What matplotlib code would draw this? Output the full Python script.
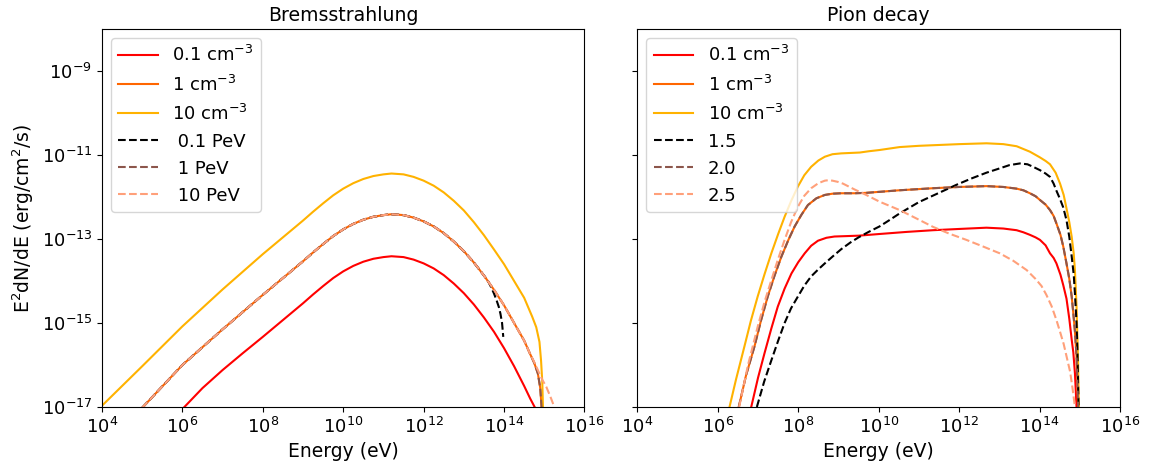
import numpy as np
import matplotlib
matplotlib.use("Agg")
import matplotlib.pyplot as plt

plt.rcParams["font.size"] = 13

# ---------------- Bremsstrahlung (log10 E [eV], log10 E^2dN/dE [erg/cm^2/s]) ----------------
brem_n10_logE = [4.0, 5.0, 6.0, 7.0, 8.0, 9.0, 9.25, 9.5, 9.75, 10.0, 10.25, 10.5, 10.75,
                 11.0, 11.2, 11.5, 11.75, 12.0, 12.25, 12.5, 12.75, 13.0, 13.25, 13.5,
                 13.75, 14.0, 14.25, 14.5, 14.7, 14.8, 14.88, 14.92, 14.95, 14.97]
brem_n10_logF = [-16.97, -16.03, -15.08, -14.20, -13.36, -12.56, -12.35, -12.15, -11.96,
                 -11.80, -11.67, -11.57, -11.50, -11.46, -11.44, -11.46, -11.52, -11.61,
                 -11.73, -11.89, -12.09, -12.32, -12.60, -12.91, -13.25, -13.60, -14.00,
                 -14.40, -14.85, -15.10, -15.45, -15.90, -16.40, -17.10]

brem_n1_logE = [5.0, 6.0, 7.0, 8.0, 9.0, 9.25, 9.5, 9.75, 10.0, 10.25, 10.5, 10.75, 11.0,
                11.2, 11.5, 11.75, 12.0, 12.25, 12.5, 12.75, 13.0, 13.25, 13.5, 13.75,
                14.0, 14.25, 14.5, 14.63, 14.75, 14.84, 14.9, 14.94]
brem_n1_logF = [-17.02, -16.00, -15.15, -14.33, -13.53, -13.32, -13.12, -12.93, -12.77,
                -12.64, -12.54, -12.47, -12.43, -12.41, -12.43, -12.49, -12.58, -12.70,
                -12.86, -13.06, -13.29, -13.56, -13.87, -14.21, -14.58, -15.00, -15.42,
                -15.70, -15.95, -16.20, -16.55, -17.10]

brem_n01_logE = [6.05, 6.5, 7.0, 7.5, 8.0, 9.0, 9.25, 9.5, 9.75, 10.0, 10.25, 10.5, 10.75,
                 11.0, 11.2, 11.5, 11.75, 12.0, 12.25, 12.5, 12.75, 13.0, 13.25, 13.5,
                 13.75, 14.0, 14.25, 14.5, 14.65, 14.76]
brem_n01_logF = [-17.00, -16.55, -16.12, -15.72, -15.33, -14.53, -14.32, -14.12, -13.93,
                 -13.77, -13.64, -13.54, -13.47, -13.43, -13.41, -13.43, -13.49, -13.58,
                 -13.70, -13.86, -14.06, -14.29, -14.56, -14.87, -15.21, -15.60, -16.03,
                 -16.50, -16.80, -17.00]

brem_01PeV_logE = [5.0, 6.0, 7.0, 8.0, 9.0, 9.25, 9.5, 9.75, 10.0, 10.25, 10.5, 10.75,
                   11.0, 11.2, 11.5, 11.75, 12.0, 12.25, 12.5, 12.75, 13.0, 13.25, 13.5,
                   13.6, 13.68, 13.75, 13.81, 13.87, 13.91, 13.95, 13.98]
brem_01PeV_logF = [-17.02, -16.00, -15.15, -14.33, -13.53, -13.32, -13.12, -12.93, -12.77,
                   -12.64, -12.54, -12.47, -12.43, -12.41, -12.43, -12.49, -12.58, -12.70,
                   -12.86, -13.06, -13.29, -13.56, -13.87, -14.00, -14.15, -14.30, -14.45,
                   -14.62, -14.78, -15.00, -15.33]

brem_1PeV_logE = brem_n1_logE
brem_1PeV_logF = brem_n1_logF

brem_10PeV_logE = [5.0, 6.0, 7.0, 8.0, 9.0, 9.25, 9.5, 9.75, 10.0, 10.25, 10.5, 10.75,
                   11.0, 11.2, 11.5, 11.75, 12.0, 12.25, 12.5, 12.75, 13.0, 13.25, 13.5,
                   13.75, 14.0, 14.25, 14.5, 14.63, 14.75, 14.84, 14.95, 15.05, 15.15,
                   15.25]
brem_10PeV_logF = [-17.02, -16.00, -15.15, -14.33, -13.53, -13.32, -13.12, -12.93, -12.77,
                   -12.64, -12.54, -12.47, -12.43, -12.41, -12.43, -12.49, -12.58, -12.70,
                   -12.86, -13.06, -13.29, -13.56, -13.87, -14.21, -14.58, -15.00, -15.42,
                   -15.70, -15.93, -16.12, -16.35, -16.52, -16.75, -17.00]

# ---------------- Pion decay ----------------
pion_n10_logE = [6.29, 6.45, 6.66, 6.82, 6.99, 7.16, 7.33, 7.5, 7.66, 7.82, 7.99, 8.15,
                 8.32, 8.5, 8.66, 8.85, 9.07, 9.3, 9.53, 9.75, 10.02, 10.52, 11.0, 11.5,
                 12.0, 12.68, 13.1, 13.43, 13.76, 14.0, 14.15, 14.26, 14.4, 14.51, 14.6,
                 14.67, 14.74, 14.8, 14.85, 14.88, 14.92, 14.96, 14.98]
pion_n10_logF = [-17.00, -16.35, -15.56, -14.95, -14.37, -13.84, -13.34, -12.88, -12.47,
                 -12.10, -11.75, -11.48, -11.28, -11.13, -11.04, -10.98, -10.96, -10.95,
                 -10.94, -10.91, -10.88, -10.81, -10.78, -10.76, -10.74, -10.72, -10.74,
                 -10.79, -10.92, -11.05, -11.14, -11.22, -11.42, -11.68, -11.95, -12.27,
                 -12.60, -12.95, -13.35, -13.75, -14.60, -16.00, -17.20]

pion_n1_logE = [6.52, 6.7, 6.91, 7.07, 7.24, 7.41, 7.58, 7.75, 7.91, 8.08, 8.24, 8.45,
                8.66, 8.85, 9.07, 9.4, 9.69, 10.1, 10.5, 11.35, 12.0, 12.68, 13.1, 13.43,
                13.6, 13.76, 13.9, 14.01, 14.15, 14.26, 14.35, 14.42, 14.52, 14.59, 14.67,
                14.74, 14.8, 14.84, 14.88, 14.92, 14.96]
pion_n1_logF = [-17.00, -16.25, -15.56, -14.95, -14.37, -13.87, -13.42, -13.03, -12.70,
                -12.42, -12.19, -12.03, -11.95, -11.92, -11.91, -11.91, -11.90, -11.87,
                -11.84, -11.79, -11.76, -11.74, -11.76, -11.80, -11.84, -11.91, -11.98,
                -12.07, -12.18, -12.31, -12.45, -12.63, -12.90, -13.18, -13.58, -13.95,
                -14.37, -14.77, -15.20, -15.80, -17.00]

pion_n01_logE = [6.83, 7.0, 7.16, 7.33, 7.49, 7.66, 7.83, 8.0, 8.16, 8.32, 8.49, 8.7, 8.9,
                 9.2, 9.5, 10.02, 10.7, 11.35, 12.0, 12.68, 13.1, 13.43, 13.6, 13.76, 13.9,
                 14.01, 14.15, 14.26, 14.35, 14.42, 14.52, 14.59, 14.67, 14.74, 14.8,
                 14.84, 14.88, 14.92]
pion_n01_logF = [-17.00, -16.30, -15.72, -15.13, -14.61, -14.18, -13.82, -13.55, -13.34,
                 -13.16, -13.04, -12.97, -12.94, -12.93, -12.92, -12.88, -12.83, -12.79,
                 -12.76, -12.73, -12.75, -12.79, -12.84, -12.90, -12.96, -13.02, -13.15,
                 -13.34, -13.45, -13.58, -13.85, -14.10, -14.42, -14.90, -15.40, -15.70,
                 -16.20, -17.00]

pion_a15_logE = [6.97, 7.15, 7.33, 7.5, 7.66, 7.82, 7.99, 8.15, 8.32, 8.5, 8.66, 8.85,
                 9.07, 9.3, 9.5, 9.75, 10.02, 10.25, 10.52, 11.0, 11.5, 11.93, 12.3, 12.68,
                 13.0, 13.25, 13.51, 13.7, 13.84, 14.01, 14.15, 14.26, 14.35, 14.42, 14.51,
                 14.59, 14.67, 14.74, 14.8, 14.85, 14.88, 14.92, 14.94, 14.97]
pion_a15_logF = [-17.00, -16.40, -15.89, -15.42, -15.00, -14.65, -14.37, -14.11, -13.89,
                 -13.72, -13.58, -13.42, -13.24, -13.08, -12.96, -12.83, -12.70, -12.56,
                 -12.39, -12.12, -11.90, -11.71, -11.56, -11.42, -11.32, -11.24, -11.20,
                 -11.22, -11.28, -11.36, -11.44, -11.52, -11.68, -11.85, -12.05, -12.25,
                 -12.55, -12.95, -13.42, -13.85, -14.30, -15.00, -15.60, -17.00]

pion_a20_logE = pion_n1_logE
pion_a20_logF = pion_n1_logF

pion_a25_logE = [6.53, 6.75, 6.99, 7.16, 7.33, 7.5, 7.66, 7.82, 7.99, 8.15, 8.32, 8.5,
                 8.66, 8.74, 8.85, 8.99, 9.11, 9.4, 9.69, 10.02, 10.52, 11.0, 11.35, 11.75,
                 12.18, 12.6, 13.01, 13.35, 13.68, 13.9, 14.05, 14.17, 14.3, 14.42, 14.51,
                 14.6, 14.68, 14.76, 14.82, 14.88]
pion_a25_logF = [-17.00, -16.00, -15.09, -14.50, -13.98, -13.47, -13.02, -12.60, -12.23,
                 -11.97, -11.79, -11.67, -11.61, -11.60, -11.61, -11.64, -11.68, -11.82,
                 -11.95, -12.11, -12.31, -12.54, -12.71, -12.87, -13.02, -13.18, -13.34,
                 -13.52, -13.74, -13.95, -14.12, -14.33, -14.60, -14.93, -15.21, -15.50,
                 -15.83, -16.16, -16.55, -17.00]

density_labels = ["0.1 cm$^{-3}$", "1 cm$^{-3}$", "10 cm$^{-3}$"]
emax_labels = [" 0.1 PeV", " 1 PeV", " 10 PeV"]
index_labels = ["1.5", "2.0", "2.5"]

solid_colors = ["#ff0000", "#ff6600", "#ffb200"]
dashed_colors = ["black", "#8c564b", "#ffa07a"]


def pw(a):
    return np.power(10.0, np.asarray(a, dtype=float))


fig, (ax1, ax2) = plt.subplots(1, 2, figsize=(11.52, 4.69), dpi=100, sharey=True)
fig.subplots_adjust(left=0.0885, right=0.9722, bottom=0.1322, top=0.938, wspace=0.1097)

# Bremsstrahlung panel
brem_solid = [(brem_n01_logE, brem_n01_logF), (brem_n1_logE, brem_n1_logF),
              (brem_n10_logE, brem_n10_logF)]
brem_dashed = [(brem_01PeV_logE, brem_01PeV_logF), (brem_1PeV_logE, brem_1PeV_logF),
               (brem_10PeV_logE, brem_10PeV_logF)]
for (e, f), c, lab in zip(brem_solid, solid_colors, density_labels):
    ax1.plot(pw(e), pw(f), color=c, lw=1.5, label=lab)
for (e, f), c, lab in zip(brem_dashed, dashed_colors, emax_labels):
    ax1.plot(pw(e), pw(f), color=c, lw=1.5, ls="--", label=lab)
ax1.set_title("Bremsstrahlung", fontsize=13.6)

# Pion decay panel
pion_solid = [(pion_n01_logE, pion_n01_logF), (pion_n1_logE, pion_n1_logF),
              (pion_n10_logE, pion_n10_logF)]
pion_dashed = [(pion_a15_logE, pion_a15_logF), (pion_a20_logE, pion_a20_logF),
               (pion_a25_logE, pion_a25_logF)]
for (e, f), c, lab in zip(pion_solid, solid_colors, density_labels):
    ax2.plot(pw(e), pw(f), color=c, lw=1.5, label=lab)
for (e, f), c, lab in zip(pion_dashed, dashed_colors, index_labels):
    ax2.plot(pw(e), pw(f), color=c, lw=1.5, ls="--", label=lab)
ax2.set_title("Pion decay", fontsize=13.6)

for ax in (ax1, ax2):
    ax.set_xscale("log")
    ax.set_yscale("log")
    ax.set_xlim(1e4, 1e16)
    ax.set_ylim(1e-17, 1e-8)
    ax.set_xlabel("Energy (eV)", fontsize=13.5)
    ax.legend(loc="upper left", fontsize=13, handlelength=2.2)

ax1.set_ylabel("E$^2$dN/dE (erg/cm$^2$/s)", fontsize=13.5)

fig.savefig("out.png", dpi=100)
